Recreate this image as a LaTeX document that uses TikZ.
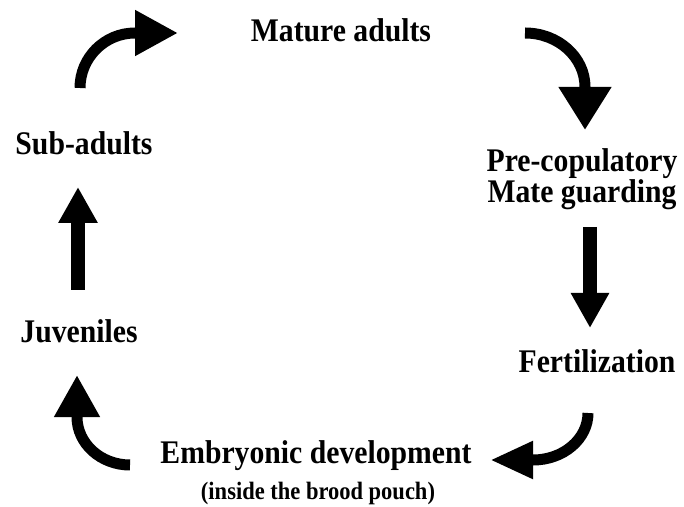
\documentclass[tikz,border=0pt]{standalone}
\usepackage{fontspec}
\setmainfont{Liberation Serif}[FakeStretch=0.9]
\usetikzlibrary{arrows.meta}

\tikzset{
  stage/.style={font=\bfseries\fontsize{33}{30}\selectfont, inner sep=0pt, anchor=base},
  note/.style={font=\bfseries\fontsize{25}{25}\selectfont, inner sep=0pt, anchor=base},
  curvearrow/.style={line width=11pt, -{Triangle[width=43pt,length=43pt]}},
  flow/.style={line width=14pt, -{Triangle[width=37pt,length=36pt]}},
}

\begin{document}
\begin{tikzpicture}[x=1pt,y=1pt]
  \useasboundingbox (0,0) rectangle (684,506);
  % stages
  \node[stage] (mature) at (341,464) {Mature adults};
  \node[stage, align=center] (guard) at (582,303) {Pre-copulatory\\Mate guarding};
  \node[stage] (fert) at (597,134) {Fertilization};
  \node[stage] (embryo) at (316,43) {Embryonic development};
  \node[note] (pouch) at (318,7) {(inside the brood pouch)};
  \node[stage] (juv) at (79,164) {Juveniles};
  \node[stage] (sub) at (84,351) {Sub-adults};
  % arrow ends
  \coordinate (subS) at (80,418);
  \coordinate (subE) at (178,473);
  \coordinate (matS) at (525,473);
  \coordinate (matE) at (585,376);
  \coordinate (guaS) at (590,279);
  \coordinate (guaE) at (590,178);
  \coordinate (ferS) at (588,93);
  \coordinate (ferE) at (490,46);
  \coordinate (embS) at (130,41);
  \coordinate (embE) at (77,131);
  \coordinate (juvS) at (78,216);
  \coordinate (juvE) at (78,319);
  % arrows
  \draw[curvearrow] (subS) arc[start angle=180, end angle=90, radius=55] -- (subE);
  \draw[curvearrow, -{Triangle[width=50pt,length=43pt]}] (matS)
    arc[start angle=90, end angle=0, x radius=60, y radius=54] -- (matE);
  \draw[flow, -{Triangle[width=36pt,length=35pt]}] (guaS) -- (guaE);
  \draw[curvearrow, -{Triangle[width=35pt,length=43pt]}] (ferS)
    arc[start angle=0, end angle=-90, x radius=55, y radius=47] -- (ferE);
  \draw[curvearrow, -{Triangle[width=43pt,length=42pt]}] (embS)
    arc[start angle=270, end angle=180, x radius=53, y radius=48] -- (embE);
  \draw[flow] (juvS) -- (juvE);
\end{tikzpicture}
\end{document}
